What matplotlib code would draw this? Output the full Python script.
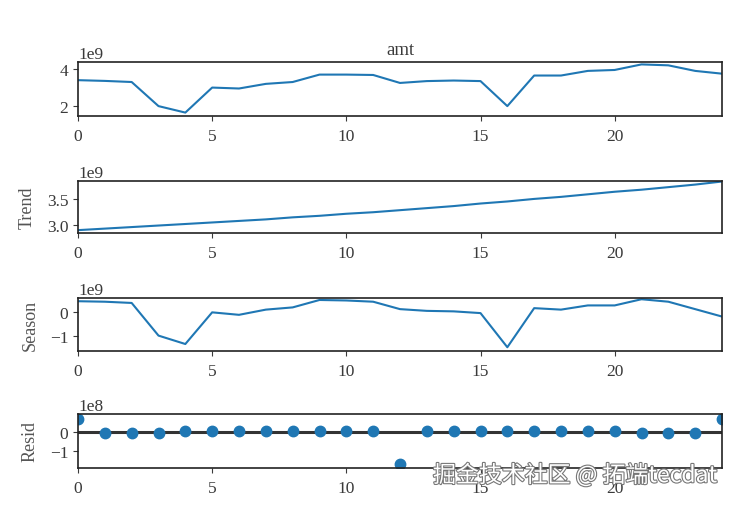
import matplotlib
matplotlib.use("Agg")
import matplotlib.pyplot as plt
import matplotlib.patheffects as pe

# x index of the series
idx = list(range(25))

# observed amt (units of 1e9)
amt = [3.40, 3.36, 3.30, 2.00, 1.65, 3.00, 2.95, 3.20, 3.30, 3.70, 3.70, 3.68, 3.25,
       3.35, 3.38, 3.35, 2.00, 3.65, 3.65, 3.90, 3.95, 4.25, 4.20, 3.90, 3.75]
# trend (1e9)
trend = [2.90, 2.93, 2.96, 2.99, 3.02, 3.05, 3.08, 3.11, 3.15, 3.18, 3.22, 3.25, 3.29,
         3.33, 3.37, 3.42, 3.46, 3.51, 3.55, 3.60, 3.65, 3.69, 3.74, 3.79, 3.85]
# seasonal (1e9)
season = [0.42, 0.40, 0.35, -0.97, -1.31, -0.03, -0.13, 0.08, 0.17, 0.47, 0.45, 0.40, 0.10,
          0.03, 0.01, -0.06, -1.44, 0.14, 0.08, 0.25, 0.25, 0.50, 0.40, 0.10, -0.20]
# residual (1e8)
resid = [0.67, -0.07, -0.07, -0.07, 0.03, 0.02, 0.02, 0.02, 0.02, 0.02, 0.02, 0.02, -1.70,
         0.02, 0.02, 0.02, 0.02, 0.02, 0.02, 0.02, 0.02, -0.05, -0.05, -0.05, 0.67]

plt.rcParams["font.family"] = ["Liberation Serif", "DejaVu Serif"]
plt.rcParams["font.size"] = 12.5
plt.rcParams["text.color"] = "#3a3a3a"
plt.rcParams["xtick.color"] = "#3a3a3a"
plt.rcParams["ytick.color"] = "#3a3a3a"
plt.rcParams["xtick.major.pad"] = 5
plt.rcParams["axes.labelcolor"] = "#555555"

W, H = 734, 506
fig = plt.figure(figsize=(W / 100, H / 100), dpi=100)

def box(top, bottom):
    return [78 / W, 1 - bottom / H, 644 / W, (bottom - top) / H]

ax1 = fig.add_axes(box(63, 117.3))
ax2 = fig.add_axes(box(182, 233.7))
ax3 = fig.add_axes(box(299, 351.7))
ax4 = fig.add_axes(box(415, 468.7))

c = "#1f77b4"
ax1.plot(idx, [v * 1e9 for v in amt], color=c, lw=1.5)
ax1.set_title("amt", fontsize=13.5, pad=6)
ax2.plot(idx, [v * 1e9 for v in trend], color=c, lw=1.5)
ax2.set_ylabel("Trend", fontsize=13, labelpad=8)
ax3.plot(idx, [v * 1e9 for v in season], color=c, lw=1.5)
ax3.set_ylabel("Season", fontsize=13, labelpad=8)
ax4.plot(idx, [v * 1e8 for v in resid], marker="o", ls="none", color=c, ms=7.5)
ax4.axhline(0, color="#333333", lw=2.2, zorder=-3)
ax4.set_ylabel("Resid", fontsize=13, labelpad=8)

ax1.set_ylim(1.45e9, 4.38e9)
ax2.set_ylim(2.85e9, 3.86e9)
ax3.set_ylim(-1.58e9, 0.55e9)
ax4.set_ylim(-1.89e8, 0.93e8)

for ax in (ax1, ax2, ax3, ax4):
    ax.set_xlim(0, 24)
    ax.set_xticks([0, 5, 10, 15, 20])
    ax.yaxis.get_offset_text().set_fontsize(12.5)
    for s in ax.spines.values():
        s.set_linewidth(1.2)
        s.set_color("#222222")
ax1.set_yticks([2e9, 4e9])
ax2.set_yticks([3.0e9, 3.5e9])
ax3.set_yticks([-1e9, 0])
ax4.set_yticks([-1e8, 0])

fig.text(0.59, 0.045, "掘金技术社区 @ 拓端tecdat", color="white", fontsize=16.5,
         family=["Noto Sans CJK SC", "DejaVu Sans"],
         path_effects=[pe.withStroke(linewidth=1.6, foreground="#777777")])

fig.savefig("out.png", dpi=100)
